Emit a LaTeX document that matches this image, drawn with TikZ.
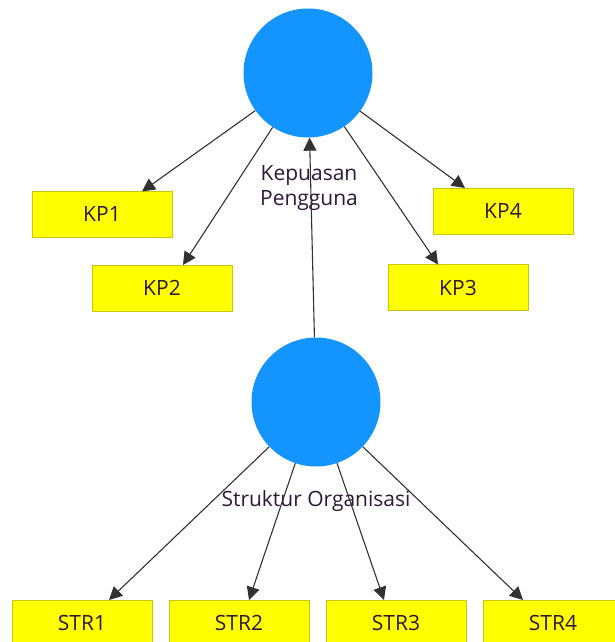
\documentclass[tikz,border=0pt]{standalone}
\usepackage{fontspec}
\setmainfont{Open Sans}
\usetikzlibrary{arrows.meta}
\definecolor{latentblue}{RGB}{20,148,255}
\definecolor{indyellow}{RGB}{255,255,0}
\definecolor{indborder}{RGB}{200,200,20}
\definecolor{linkgray}{RGB}{50,50,50}
\definecolor{labelink}{RGB}{45,25,55}
\begin{document}
\begin{tikzpicture}[x=1pt,y=-1pt,
  latent/.style={circle,fill=latentblue,draw=none,minimum size=129pt,inner sep=0pt},
  indicator/.style={rectangle,fill=indyellow,draw=indborder,line width=1pt,
    minimum width=140pt,minimum height=46pt,inner sep=0pt,
    font=\fontsize{21}{24}\selectfont,text=labelink},
  latentlabel/.style={font=\fontsize{21}{25}\selectfont,text=labelink,align=center},
  link/.style={draw=linkgray,line width=1.1pt,-{Triangle[length=13pt,width=13pt]}}]
  \useasboundingbox (0,0) rectangle (614,642);

  % latent variables
  \node[latent] (kp) at (308,73) {};
  \node[latent] (stro) at (316,402) {};
  \node[latentlabel] (lkp) at (309,188) {Kepuasan\\Pengguna};
  \node[latentlabel] (lstro) at (316,501) {Struktur Organisasi};

  % indicators of Kepuasan Pengguna
  \node[indicator] (kp1) at (102,214.5) {KP1};
  \node[indicator] (kp2) at (162,288) {KP2};
  \node[indicator] (kp3) at (458,287.5) {KP3};
  \node[indicator] (kp4) at (503,211) {KP4};

  % indicators of Struktur Organisasi
  \node[indicator] (str1) at (82,623) {STR1};
  \node[indicator] (str2) at (239,623) {STR2};
  \node[indicator] (str3) at (396,623) {STR3};
  \node[indicator] (str4) at (553,623) {STR4};

  % arrow tips on the top edges of the indicators
  \coordinate (tkp1) at (142,191.5);
  \coordinate (tkp2) at (183,265);
  \coordinate (tkp3) at (438,264.5);
  \coordinate (tkp4) at (465,188);
  \coordinate (tstr1) at (109,600);
  \coordinate (tstr2) at (249,600);
  \coordinate (tstr3) at (384,600);
  \coordinate (tstr4) at (523,600);

  % structural path
  \draw[link] (stro) -- (kp);

  % outer model
  \draw[link] (kp) -- (tkp1);
  \draw[link] (kp) -- (tkp2);
  \draw[link] (kp) -- (tkp3);
  \draw[link] (kp) -- (tkp4);
  \draw[link] (stro) -- (tstr1);
  \draw[link] (stro) -- (tstr2);
  \draw[link] (stro) -- (tstr3);
  \draw[link] (stro) -- (tstr4);
\end{tikzpicture}
\end{document}
